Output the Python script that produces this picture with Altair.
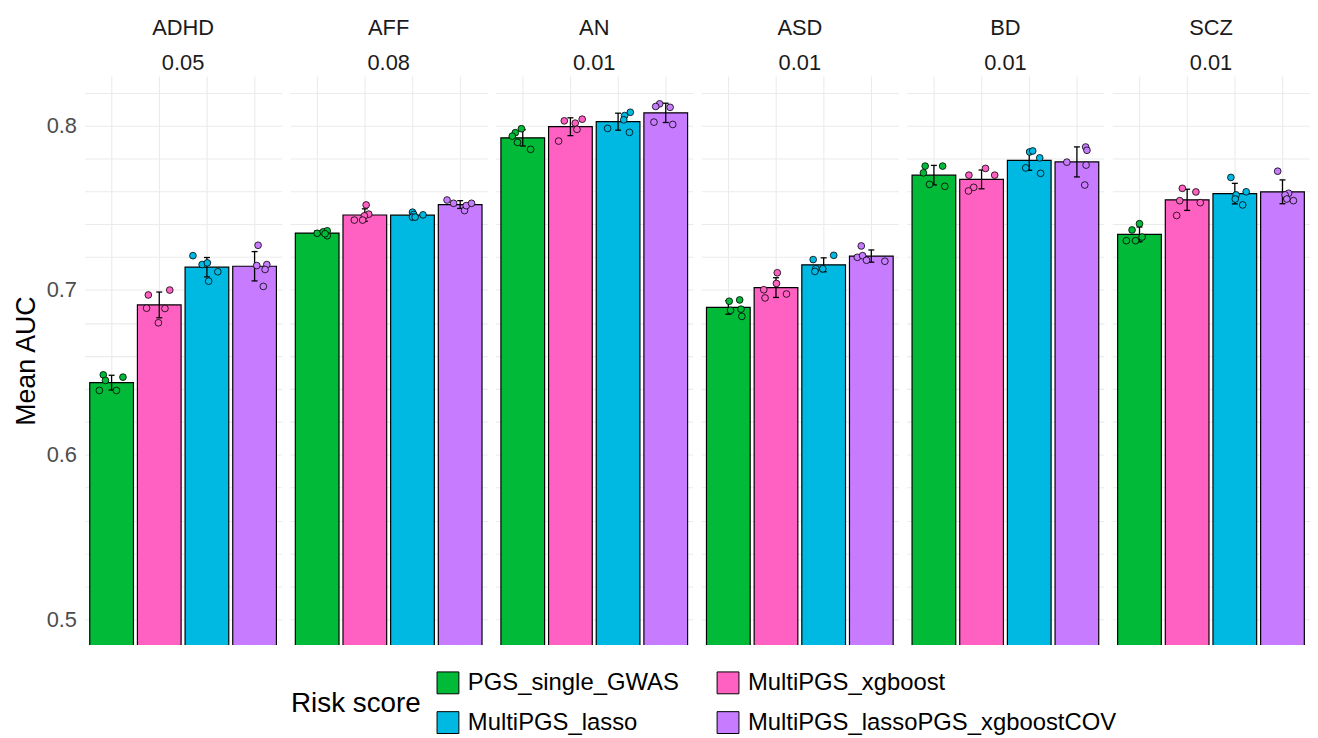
import altair as alt
import pandas as pd

disorders = ["ADHD", "AFF", "AN", "ASD", "BD", "SCZ"]
pvalues = ["0.05", "0.08", "0.01", "0.01", "0.01", "0.01"]
risk_scores = ["PGS_single_GWAS", "MultiPGS_xgboost", "MultiPGS_lasso",
               "MultiPGS_lassoPGS_xgboostCOV"]
colors = ["#00BA38", "#FF61C3", "#00B9E3", "#C77CFF"]

# per-fold AUC values (5 folds), one inner list per risk score
adhd_auc = [[0.6485, 0.6451, 0.6471, 0.6390, 0.6390],
            [0.6970, 0.7000, 0.6890, 0.6888, 0.6801],
            [0.7209, 0.7155, 0.7165, 0.7111, 0.7054],
            [0.7272, 0.7149, 0.7155, 0.7125, 0.7022]]
aff_auc = [[0.7345, 0.7354, 0.7360, 0.7330, 0.7342],
           [0.7517, 0.7461, 0.7451, 0.7425, 0.7425],
           [0.7473, 0.7459, 0.7443, 0.7443, 0.7457],
           [0.7547, 0.7527, 0.7483, 0.7513, 0.7527]]
an_auc = [[0.7980, 0.7956, 0.7935, 0.7897, 0.7855],
          [0.8028, 0.8014, 0.8038, 0.7976, 0.7905],
          [0.8080, 0.8060, 0.8034, 0.7982, 0.7958],
          [0.8131, 0.8115, 0.8110, 0.8020, 0.8006]]
asd_auc = [[0.6932, 0.6940, 0.6877, 0.6884, 0.6840],
           [0.7105, 0.7040, 0.7002, 0.6952, 0.6976],
           [0.7211, 0.7185, 0.7129, 0.7129, 0.7113],
           [0.7268, 0.7199, 0.7209, 0.7181, 0.7175]]
bd_auc = [[0.7753, 0.7753, 0.7712, 0.7642, 0.7630],
          [0.7698, 0.7739, 0.7698, 0.7624, 0.7602],
          [0.7839, 0.7845, 0.7803, 0.7742, 0.7709],
          [0.7869, 0.7849, 0.7777, 0.7759, 0.7638]]
scz_auc = [[0.7403, 0.7365, 0.7322, 0.7300, 0.7300],
           [0.7618, 0.7596, 0.7543, 0.7531, 0.7453],
           [0.7684, 0.7597, 0.7578, 0.7553, 0.7517],
           [0.7722, 0.7588, 0.7578, 0.7553, 0.7543]]

# horizontal jitter of each fold point, as a fraction of the bar width
adhd_jit = [[-0.19, -0.14, 0.26, -0.28, 0.11], [-0.25, 0.24, -0.29, 0.13, -0.02],
            [-0.32, -0.11, 0.01, 0.25, 0.04], [0.08, 0.05, 0.28, 0.24, 0.20]]
aff_jit = [[0.00, 0.14, 0.23, 0.23, 0.18], [0.03, 0.09, -0.01, -0.24, -0.05],
           [0.00, 0.03, 0.00, 0.06, 0.24], [-0.30, -0.15, 0.10, 0.14, 0.26]]
an_jit = [[-0.03, -0.17, -0.24, -0.12, 0.18], [-0.14, 0.11, 0.27, 0.15, -0.27],
          [0.28, 0.15, 0.13, -0.24, 0.26], [-0.14, -0.23, 0.10, -0.27, 0.16]]
asd_jit = [[0.02, 0.26, 0.05, 0.29, 0.31], [0.03, 0.01, -0.28, -0.25, 0.24],
           [0.23, -0.24, -0.18, -0.02, -0.20], [-0.23, -0.32, -0.20, -0.11, 0.31]]
bd_jit = [[-0.20, 0.20, -0.24, -0.10, 0.25], [-0.29, 0.09, 0.30, -0.18, -0.30],
          [0.01, 0.08, 0.24, -0.08, 0.26], [0.20, 0.23, -0.23, 0.21, 0.18]]
scz_jit = [[0.00, -0.17, 0.06, -0.30, -0.09], [-0.11, 0.20, -0.17, 0.30, -0.24],
           [-0.09, 0.26, 0.03, 0.01, 0.18], [-0.11, 0.14, 0.06, 0.10, 0.25]]

y_grid_values = [0.50, 0.52, 0.54, 0.56, 0.58, 0.60, 0.62, 0.64, 0.66, 0.68,
                 0.70, 0.72, 0.74, 0.76, 0.78, 0.80, 0.82]
y_domain = [0.4843, 0.830]
x_domain = [-0.569, 3.569]
x_grid_values = [0, 1, 2, 3]

all_auc = [adhd_auc, aff_auc, an_auc, asd_auc, bd_auc, scz_auc]
all_jit = [adhd_jit, aff_jit, an_jit, asd_jit, bd_jit, scz_jit]

rows = []
for d, p, aucs, jits in zip(disorders, pvalues, all_auc, all_jit):
    for r, vals, js in zip(risk_scores, aucs, jits):
        for v, j in zip(vals, js):
            rows.append({"panel": f"{d}|{p}", "risk": r, "auc": v, "jit": j})
df = pd.DataFrame(rows)
panel_order = [f"{d}|{p}" for d, p in zip(disorders, pvalues)]

FONT = "Liberation Sans"
PANEL_W = 198.6
BAR_PX = 44
bar_frac = BAR_PX / (PANEL_W / (x_domain[1] - x_domain[0]))

risk_js = "[" + ", ".join(f"'{r}'" for r in risk_scores) + "]"

x_scale = alt.Scale(domain=x_domain, nice=False, zero=False, padding=0)
y_scale = alt.Scale(domain=y_domain, zero=False, nice=False)
x_axis = alt.Axis(values=x_grid_values, labels=False, ticks=False, domain=False,
                  title=None, grid=True)
y_axis = alt.Axis(values=y_grid_values, title="Mean AUC", labelOverlap=False,
                  labelExpr="(round(datum.value*100) % 10 == 0) ? format(datum.value, '.1f') : ''")

color_scale = alt.Scale(domain=risk_scores, range=colors)

base = alt.Chart().transform_calculate(idx=f"indexof({risk_js}, datum.risk)")

summary = base.transform_aggregate(
    m="mean(auc)", s="stdev(auc)", groupby=["panel", "risk", "idx"]
).transform_calculate(lo="datum.m - datum.s", hi="datum.m + datum.s")

bars = summary.mark_bar(size=BAR_PX, clip=True, stroke="black",
                        strokeWidth=1.2).encode(
    x=alt.X("idx:Q", scale=x_scale, axis=x_axis),
    y=alt.Y("m:Q", scale=y_scale, axis=y_axis, title="Mean AUC"),
    color=alt.Color("risk:N", sort=risk_scores, scale=color_scale,
                    legend=alt.Legend(title="Risk score", orient="none",
                                      legendX=208, legendY=599,
                                      direction="horizontal", columns=2,
                                      titleOrient="left")),
)

err_rule = summary.mark_rule(color="black", strokeWidth=1.3).encode(
    x=alt.X("idx:Q", scale=x_scale, axis=x_axis),
    y=alt.Y("lo:Q", scale=y_scale, axis=y_axis, title="Mean AUC"),
    y2="hi:Q",
)
cap_hi = summary.mark_rule(color="black", strokeWidth=1.3, xOffset=-3,
                           x2Offset=3).encode(
    x=alt.X("idx:Q", scale=x_scale, axis=x_axis), x2="idx:Q",
    y=alt.Y("hi:Q", scale=y_scale, axis=y_axis, title="Mean AUC"),
)
cap_lo = summary.mark_rule(color="black", strokeWidth=1.3, xOffset=-3,
                           x2Offset=3).encode(
    x=alt.X("idx:Q", scale=x_scale, axis=x_axis), x2="idx:Q",
    y=alt.Y("lo:Q", scale=y_scale, axis=y_axis, title="Mean AUC"),
)

pts = base.transform_calculate(
    px=f"datum.idx + datum.jit * {bar_frac:.4f}"
).mark_circle(size=46, opacity=1, stroke="black", strokeWidth=0.8).encode(
    x=alt.X("px:Q", scale=x_scale, axis=x_axis),
    y=alt.Y("auc:Q", scale=y_scale, axis=y_axis, title="Mean AUC"),
    color=alt.Color("risk:N", sort=risk_scores, scale=color_scale, legend=None),
)

chart = alt.layer(bars, err_rule, cap_hi, cap_lo, pts, data=df).properties(
    width=PANEL_W, height=573
).facet(
    column=alt.Column("panel:N", sort=panel_order,
                      header=alt.Header(title=None,
                                        labelExpr="split(datum.value, '|')",
                                        labelFontSize=22, labelFont=FONT,
                                        labelColor="#1A1A1A",
                                        labelLineHeight=35, labelPadding=1)),
    spacing=8,
).properties(
    padding={"left": 4, "top": 7, "right": 0, "bottom": 0}
).configure_view(stroke=None).configure_axis(
    gridColor="#EBEBEB", gridWidth=1.1, labelFont=FONT, titleFont=FONT,
    labelFontSize=22, labelColor="#4D4D4D", titleFontSize=27,
    titleColor="#000000", titleFontWeight="normal", labelPadding=8,
    titlePadding=6, ticks=False, domain=False,
).configure_legend(
    titleFont=FONT, labelFont=FONT, titleFontSize=28, titleFontWeight="normal",
    titleColor="#000000", labelFontSize=24, labelColor="#000000",
    labelLimit=600, symbolType="square", symbolSize=484,
    symbolStrokeColor="black", symbolStrokeWidth=1, symbolOpacity=1,
    rowPadding=14, columnPadding=36, labelOffset=8, titlePadding=15,
    titleBaseline="middle",
)

chart.save("out.html", embed_options={"renderer": "svg", "actions": False})
